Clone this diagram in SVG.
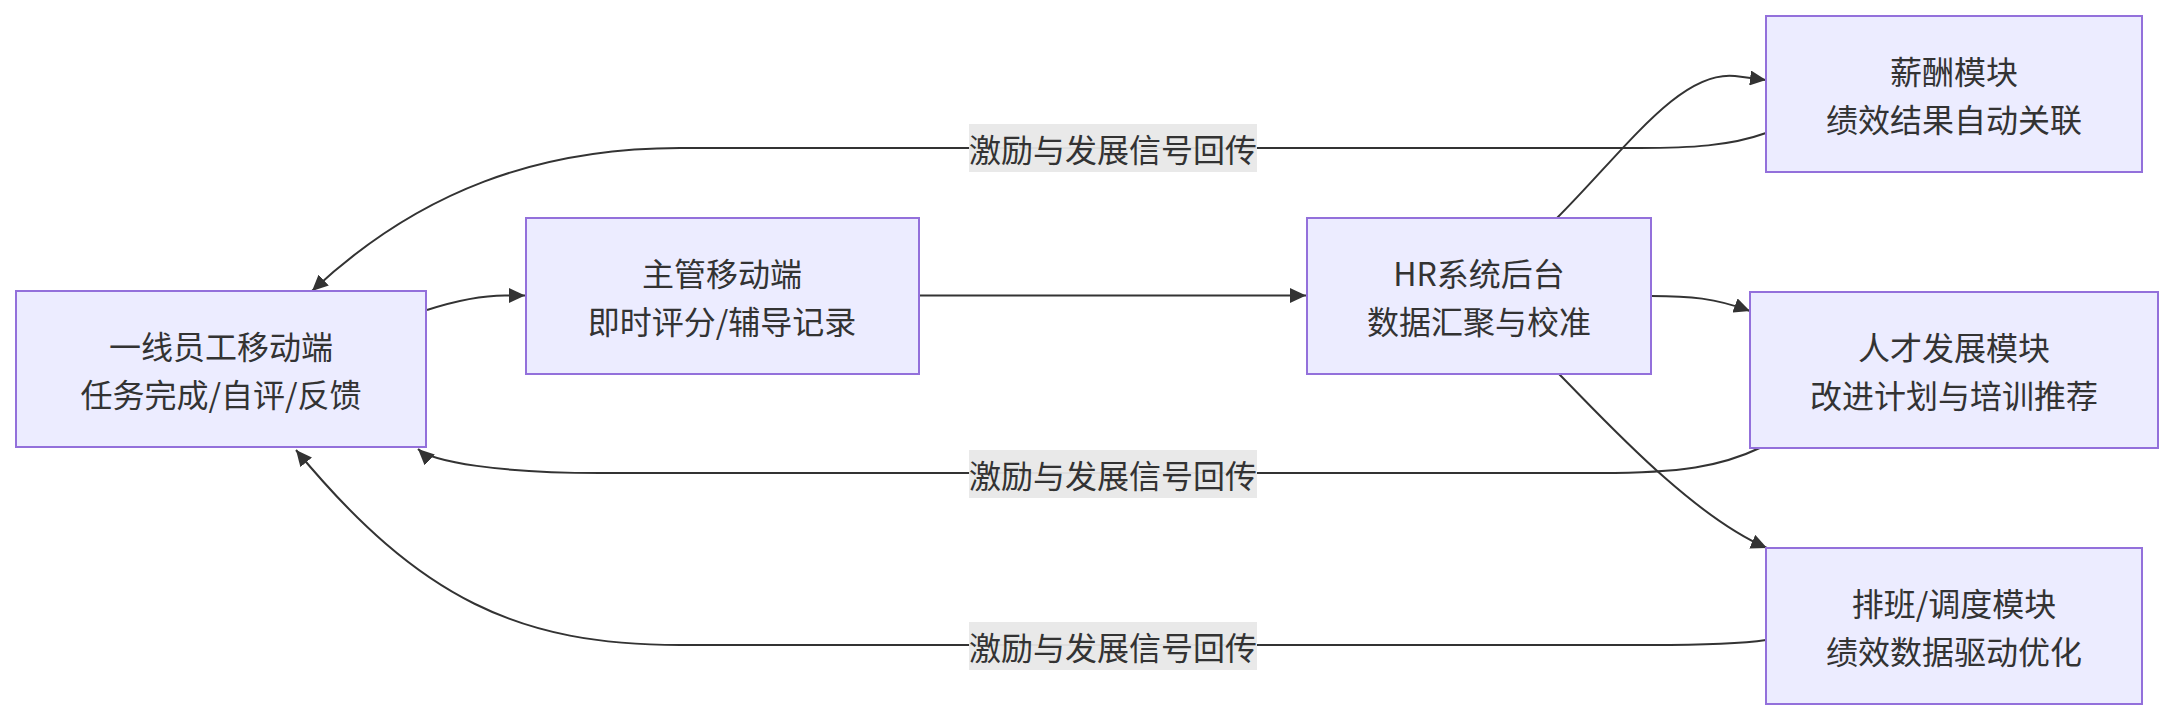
<svg xmlns="http://www.w3.org/2000/svg" width="2174" height="720" viewBox="0 0 2174 720">
<style>
.node rect{fill:#ECECFF;stroke:#9370DB;stroke-width:2}
text{font-family:"Noto Sans CJK SC","Liberation Sans",sans-serif;font-size:32px;fill:#333;text-anchor:middle;dominant-baseline:central}
.edge{fill:none;stroke:#333;stroke-width:2}
.lbl rect{fill:#e8e8e8;opacity:0.95}
</style>
<defs>
<marker id="arr" markerUnits="userSpaceOnUse" markerWidth="16" markerHeight="15" refX="16" refY="7.5" orient="auto">
<path d="M0,0 L16,7.5 L0,15 z" fill="#333"/>
</marker>
</defs>
<rect width="2174" height="720" fill="#fff"/>
<g id="edges">
<path class="edge" d="M427,310 C455,301 480,295.5 505,295.5 L525,295.5" marker-end="url(#arr)"/>
<path class="edge" d="M919,295.5 L1306,295.5" marker-end="url(#arr)"/>
<path class="edge" d="M1557,218 C1625,150 1680,70 1735,76 L1766,80" marker-end="url(#arr)"/>
<path class="edge" d="M1651,296 C1690,296 1715,298 1750,311" marker-end="url(#arr)"/>
<path class="edge" d="M1558,373 C1600,415 1690,515 1767,548" marker-end="url(#arr)"/>
<path class="edge" d="M1766,133 C1730,146 1690,148 1640,148 L680,148 C540,148 420,190 312,291" marker-end="url(#arr)"/>
<path class="edge" d="M1762,447 C1720,467 1680,473 1600,473 L600,473 C500,473 432,462 418,449" marker-end="url(#arr)"/>
<path class="edge" d="M1766,640 C1740,644 1700,645 1650,645 L680,645 C520,645 420,600 296,450" marker-end="url(#arr)"/>
</g>
<g id="edge-labels">
<g class="lbl"><rect x="969" y="124" width="288" height="48"/><text x="1113" y="148">激励与发展信号回传</text></g>
<g class="lbl"><rect x="969" y="450" width="288" height="48"/><text x="1113" y="474">激励与发展信号回传</text></g>
<g class="lbl"><rect x="969" y="622" width="288" height="48"/><text x="1113" y="646">激励与发展信号回传</text></g>
</g>
<g id="node-A" class="node"><rect x="16" y="291" width="410" height="156"/><text x="221" y="345">一线员工移动端</text><text x="221" y="393">任务完成/自评/反馈</text></g>
<g id="node-B" class="node"><rect x="526" y="218" width="393" height="156"/><text x="722" y="272">主管移动端</text><text x="722" y="320">即时评分/辅导记录</text></g>
<g id="node-C" class="node"><rect x="1307" y="218" width="344" height="156"/><text x="1479" y="272">HR系统后台</text><text x="1479" y="320">数据汇聚与校准</text></g>
<g id="node-D" class="node"><rect x="1766" y="16" width="376" height="156"/><text x="1954" y="70">薪酬模块</text><text x="1954" y="118">绩效结果自动关联</text></g>
<g id="node-E" class="node"><rect x="1750" y="292" width="408" height="156"/><text x="1954" y="346">人才发展模块</text><text x="1954" y="394">改进计划与培训推荐</text></g>
<g id="node-F" class="node"><rect x="1766" y="548" width="376" height="156"/><text x="1954" y="602">排班/调度模块</text><text x="1954" y="650">绩效数据驱动优化</text></g>
</svg>
